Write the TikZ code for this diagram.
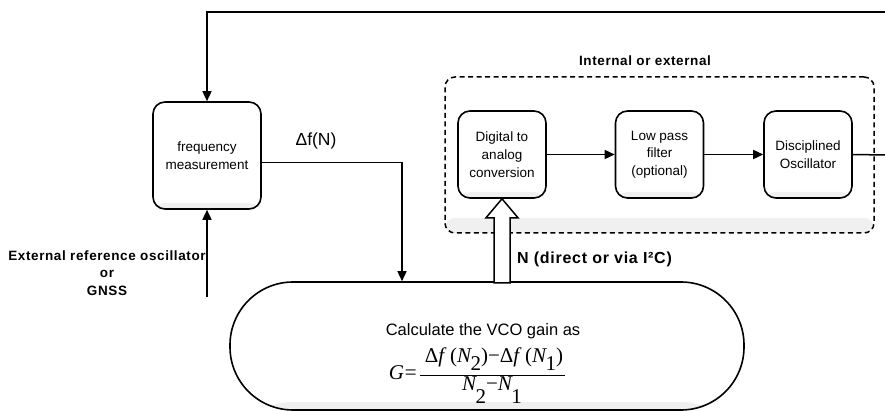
\documentclass[tikz,border=0pt]{standalone}
\usepackage{fontspec}
\setmainfont{Liberation Sans}
\newfontfamily\tms{Liberation Serif}
\newfontfamily\lblfont{Liberation Sans}[LetterSpace=4.5]
\usetikzlibrary{arrows.meta,calc}
\tikzset{
  shadebot/.style={path picture={\fill[gray!12] ([yshift=#1]path picture bounding box.south west) rectangle (path picture bounding box.south east);}},
  blk/.style={draw, line width=1.6pt, rounded corners=12pt, minimum width=88pt, minimum height=87pt,
    align=center, inner sep=2pt, fill=white, shadebot=6pt, font=\fontsize{13.5}{17.7}\selectfont},
  conn/.style={line width=1.5pt},
  arr/.style={conn, -{Triangle[length=10pt,width=9pt]}},
  lbl/.style={font=\lblfont\bfseries\fontsize{13.5}{17.5}\selectfont, align=center, inner sep=0pt},
  frm/.style={font=\tms\fontsize{21}{21}\selectfont, inner sep=0pt, anchor=base}
}
\begin{document}
\begin{tikzpicture}[x=1pt,y=-1pt]
\useasboundingbox (0,0) rectangle (885,411);
\fill[white] (0,0) rectangle (885,411);

% container
\node[draw, dash pattern=on 5pt off 3.5pt, line width=1.5pt, rounded corners=10pt,
      minimum width=429pt, minimum height=156pt, inner sep=0pt, shadebot=15pt] (grp) at (659.5,155) {};
\node[lbl] (intl) at (645,61) {Internal or external};

% blocks
\node[blk, minimum width=108pt, minimum height=107pt] (freq) at (207,155.5) {frequency\\measurement};
\node[blk] (dac) at (502,154.5) {Digital to\\analog\\conversion};
\node[blk] (lpf) at (659.5,154.5) {Low pass\\filter\\(optional)};
\node[blk] (do) at (808,154.5) {Disciplined\\Oscillator};

% calculation stadium
\node[draw, line width=1.6pt, rounded corners=63pt, minimum width=514pt, minimum height=128pt,
      inner sep=0pt, shadebot=8pt] (calc) at (487,346) {};
\node[font=\fontsize{16.5}{16.5}\selectfont, anchor=base, inner sep=0pt] (ctext) at (483,335) {Calculate the VCO gain as};
\node[font=\tms\fontsize{21}{21}\selectfont, anchor=base east, inner sep=0pt] (geq) at (417,379) {\textit{G}\kern1pt=};
\node[frm] (num) at (494,362) {Δ\textit{f}\,(\textit{N}\kern-1.5pt\raisebox{-8pt}{2})−Δ\textit{f}\,(\textit{N}\kern-1.5pt\raisebox{-8pt}{1})};
\node[frm] (den) at (492,390) {\textit{N}\kern-1.5pt\raisebox{-13pt}{2}−\textit{N}\kern-1.5pt\raisebox{-13pt}{1}};
\coordinate (barL) at (420,375);
\coordinate (barR) at (565,375);
\draw[line width=0.9pt] (barL) -- (barR);

% labels
\node[lbl] (extl) at (107,273) {External reference oscillator\\or\\GNSS};
\node[font=\fontsize{17.5}{17.5}\selectfont, inner sep=0pt] (dfl) at (316,141) {Δf(N)};
\node[font=\lblfont\bfseries\fontsize{16}{16}\selectfont, anchor=west, inner sep=0pt] (nl) at (517,259) {N (direct or via I²C)};

% connectors
\coordinate (outR) at (885,155);
\coordinate (topR) at (885,12);
\coordinate (ext) at (207,297);
\draw[conn] (do.east) -- (outR);
\draw[arr] (topR) -| (freq.north);
\draw[arr] (ext) -- (freq.south);
\draw[arr] ([yshift=-7pt]freq.east) -| ([xshift=-85pt]calc.north);
\draw[arr] (dac.east) -- (lpf.west);
\draw[arr] (lpf.east) -- (do.west);

% hollow block arrow N
\draw[line width=1.5pt, fill=white, line join=miter]
  (dac.south) -- ++(16,19) -- ++(-8,0) -- ++(0,65) -- ++(-16,0) -- ++(0,-65) -- ++(-8,0) -- cycle;
\end{tikzpicture}
\end{document}
